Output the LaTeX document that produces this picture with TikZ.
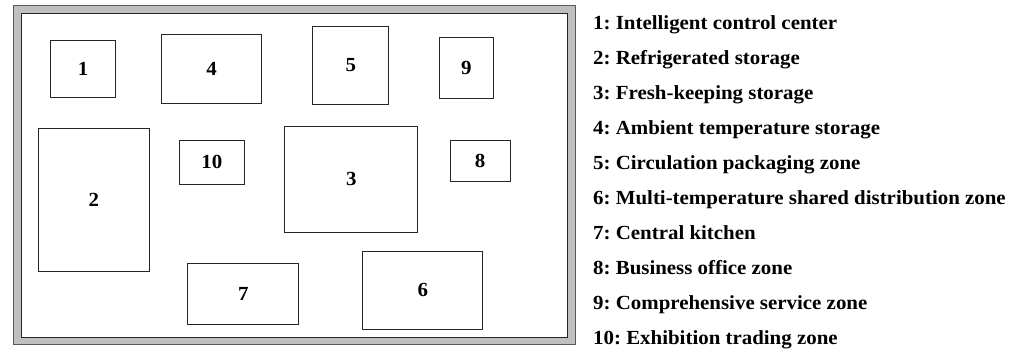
\documentclass[tikz,border=0pt]{standalone}
\usepackage{fontspec}
\setmainfont{Liberation Serif}[FakeStretch=1.045]
\frenchspacing
\begin{document}
\begin{tikzpicture}[x=1pt, y=-1pt,
  zone/.style={draw=black!85, line width=1pt, inner sep=0pt, font=\fontsize{20}{20}\selectfont\bfseries},
  legend/.style={anchor=base west, inner sep=0pt, font=\fontsize{20}{20}\selectfont\bfseries}]
\useasboundingbox (0,0) rectangle (1017,351);
\draw[draw=black!65, fill=gray!50, line width=1pt] (13,5) rectangle (575,344);
\draw[draw=black!85, fill=white, line width=1pt] (21,13) rectangle (567,337);
\node[zone, minimum width=64.6, minimum height=56.3] (z1) at (83,69) {1};
\node[zone, minimum width=100, minimum height=69.4] (z4) at (211.7,69) {4};
\node[zone, minimum width=75.7, minimum height=78] (z5) at (350.8,65.3) {5};
\node[zone, minimum width=54, minimum height=60.7] (z9) at (466.3,67.7) {9};
\node[zone, minimum width=111, minimum height=143] (z2) at (93.8,200.2) {2};
\node[zone, minimum width=65, minimum height=44.3] (z10) at (211.8,162.2) {10};
\node[zone, minimum width=132.7, minimum height=106.3] (z3) at (351.3,179.2) {3};
\node[zone, minimum width=60, minimum height=41] (z8) at (480,160.8) {8};
\node[zone, minimum width=111.3, minimum height=60.6] (z7) at (243.3,294) {7};
\node[zone, minimum width=119.7, minimum height=78.3] (z6) at (422.8,290.2) {6};
\node[legend] (l1) at (593,29.3) {1: Intelligent control center};
\node[legend] (l2) at (593,64.3) {2: Refrigerated storage};
\node[legend] (l3) at (593,99.3) {3: Fresh-keeping storage};
\node[legend] (l4) at (593,134.3) {4: Ambient temperature storage};
\node[legend] (l5) at (593,169.3) {5: Circulation packaging zone};
\node[legend] (l6) at (593,204.3) {6: Multi-temperature shared distribution zone};
\node[legend] (l7) at (593,239.3) {7: Central kitchen};
\node[legend] (l8) at (593,274.3) {8: Business office zone};
\node[legend] (l9) at (593,309.3) {9: Comprehensive service zone};
\node[legend] (l10) at (593,344.3) {10: Exhibition trading zone};
\end{tikzpicture}
\end{document}
